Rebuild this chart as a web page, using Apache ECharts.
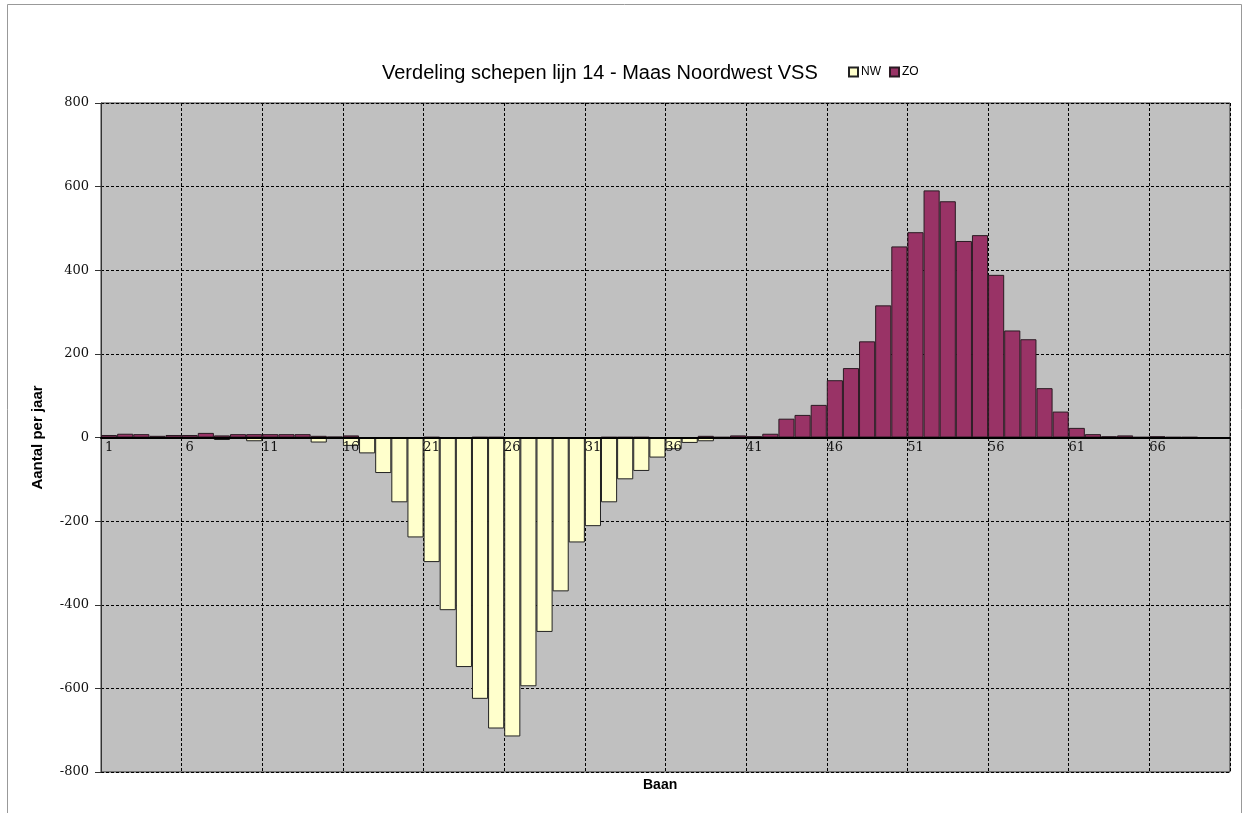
<!DOCTYPE html>
<html>
<head>
<meta charset="utf-8">
<script src="https://cdn.jsdelivr.net/npm/echarts@6/dist/echarts.min.js"></script>
<style>
  html, body { margin: 0; padding: 0; background: #fff; }
  #chart { width: 1249px; height: 813px; }
</style>
</head>
<body>
<div id="chart"></div>
<script>
// baan 1..70
const banen = []
for (let i = 1; i <= 70; i++) banen.push(String(i))

// NW (negatief), ZO (positief), aantal per jaar
const nw = [
  null, null, null, null, null, null, null, -6, -2, -9,
  -2, -3, -3, -12, -2, -20, -38, -85, -155, -239,
  -298, -413, -549, -625, -696, -715, -595, -465, -368, -251,
  -212, -155, -100, -80, -48, -28, -13, -9, -1, null,
  null, null, null, null, null, -1, null, null, null, -1,
  null, null, null, null, null, -1, null, -1, -1, null,
  null, null, null, -3, -1, -2, -1, -1, null, -1
]
const zo = [
  6, 9, 8, 4, 6, 6, 11, 5, 8, 8,
  8, 8, 8, 4, 2, 5, null, null, null, null,
  1, null, null, 1, 1, null, null, null, null, null,
  null, 1, 1, 1, null, null, null, 4, 1, 5,
  3, 9, 45, 54, 78, 137, 166, 230, 316, 457,
  491, 591, 565, 470, 484, 389, 256, 235, 118, 62,
  23, 8, 3, 5, 1, 3, 1, 1, null, null
]
const titel = 'Verdeling schepen lijn 14 - Maas Noordwest VSS'

const chart = echarts.init(document.getElementById('chart'))
const option = {
  backgroundColor: '#fff',
  animation: false,
  title: {
    text: titel,
    left: 377,
    top: 58,
    textStyle: { fontFamily: 'Liberation Sans', fontSize: 20, fontWeight: 'normal', color: '#000' }
  },
  legend: {
    left: 843,
    top: 61,
    itemWidth: 9,
    itemHeight: 9,
    itemGap: 8,
    icon: 'rect',
    textStyle: { fontFamily: 'Liberation Sans', fontSize: 12, color: '#000', padding: [0, 0, 0, -2] },
    data: ['NW', 'ZO']
  },
  grid: {
    left: 101,
    right: 19,
    top: 103,
    bottom: 41,
    show: true,
    backgroundColor: '#c0c0c0',
    borderColor: '#333',
    borderWidth: 1
  },
  xAxis: [
    {
      // rasterlijnen achter de staven
      type: 'category',
      data: banen,
      z: 0,
      axisLine: { show: false },
      axisTick: { show: false },
      axisLabel: { show: false },
      splitLine: {
        show: true,
        interval: 4,
        lineStyle: { color: '#000', type: [3, 2], width: 1 }
      }
    },
    {
      // nullijn en labels boven de staven
      type: 'category',
      data: banen,
      z: 10,
      position: 'bottom',
      offset: -334.5,
      axisLine: { onZero: false, lineStyle: { color: '#000', width: 2 } },
      axisTick: { show: false },
      axisLabel: {
        interval: 4,
        margin: 4,
        fontFamily: 'DejaVu Serif',
        fontSize: 13,
        color: '#111'
      },
      splitLine: { show: false }
    }
  ],
  yAxis: {
    type: 'value',
    min: -800,
    max: 800,
    interval: 200,
    name: 'Aantal per jaar',
    nameLocation: 'middle',
    nameRotate: 90,
    nameGap: 56,
    nameTextStyle: { fontFamily: 'Liberation Sans', fontSize: 15, fontWeight: 'bold', color: '#000' },
    axisLine: { show: true, lineStyle: { color: '#333' } },
    axisTick: { show: true, length: 6, lineStyle: { color: '#333' } },
    axisLabel: {
      margin: 12,
      fontFamily: 'DejaVu Serif',
      fontSize: 13,
      color: '#111'
    },
    splitLine: { lineStyle: { color: '#000', type: [3, 2], width: 1 } }
  },
  series: [
    {
      name: 'NW',
      type: 'bar',
      stack: 'baan',
      xAxisIndex: 0,
      data: nw,
      barCategoryGap: '0%',
      itemStyle: { color: '#ffffcc', borderColor: '#222', borderWidth: 1 }
    },
    {
      name: 'ZO',
      type: 'bar',
      stack: 'baan',
      xAxisIndex: 0,
      data: zo,
      barCategoryGap: '0%',
      itemStyle: { color: '#993366', borderColor: '#2a1a22', borderWidth: 1 }
    }
  ],
  graphic: [
    {
      type: 'rect',
      silent: true,
      shape: { x: 7.5, y: 4.5, width: 1234, height: 830 },
      style: { fill: 'none', stroke: '#999', lineWidth: 1 }
    },
    {
      type: 'text',
      left: 643,
      top: 778,
      style: { text: 'Baan', fontFamily: 'Liberation Sans', fontSize: 14, fontWeight: 'bold', fill: '#000' }
    }
  ]
}
chart.setOption(option)
</script>
</body>
</html>
